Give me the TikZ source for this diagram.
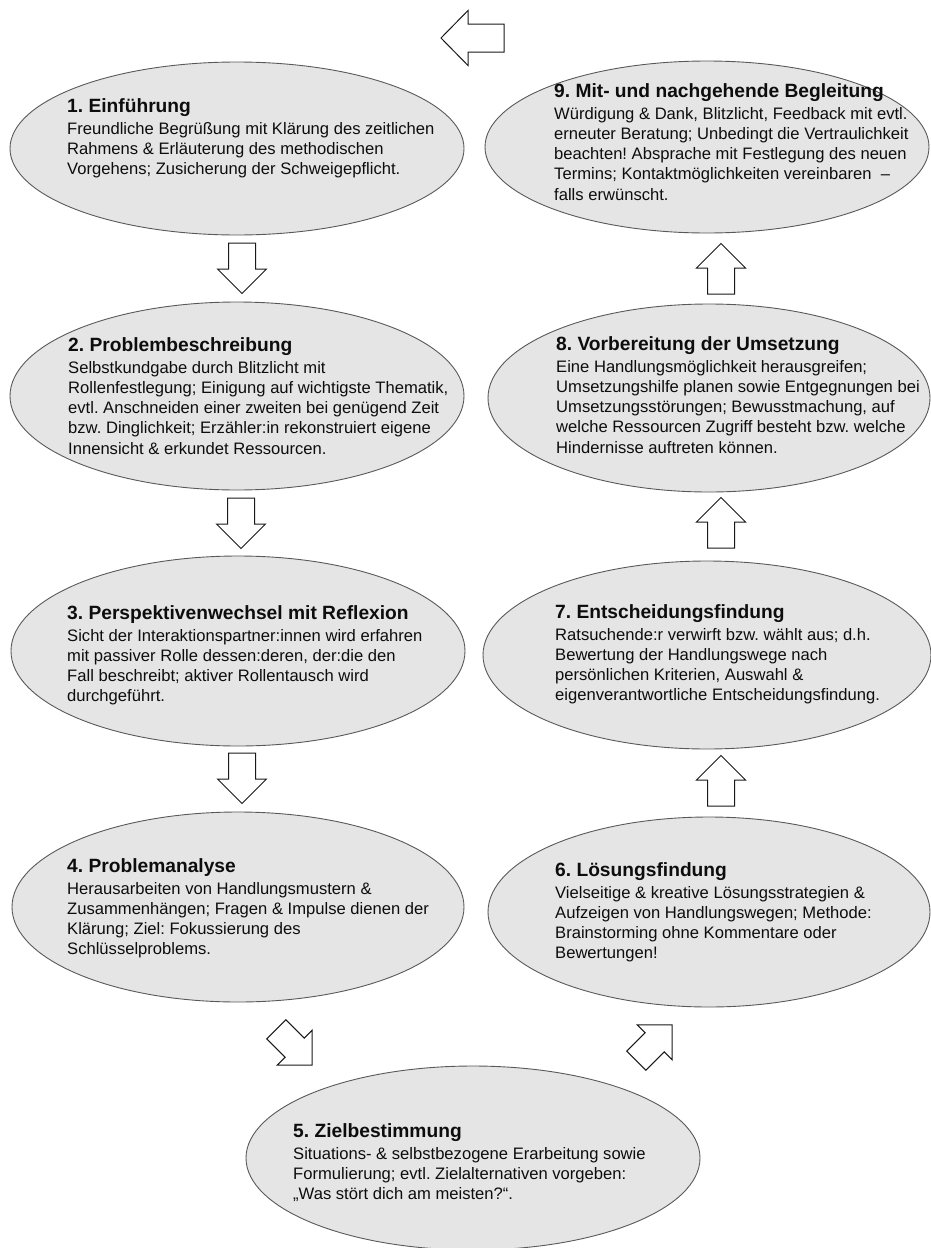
\documentclass[tikz,border=0pt]{standalone}
\usepackage{fontspec}
\setmainfont{Liberation Sans}
\usetikzlibrary{shapes.geometric}
\frenchspacing
\newcommand\stagetext[2]{\parbox[t]{420pt}{\frenchspacing\raggedright\fontsize{19.2}{23}\selectfont\bfseries #1\par\vspace{1.7pt}\fontsize{16.6}{20.3}\selectfont\mdseries #2}}
\tikzset{
  stage/.style 2 args={ellipse, draw=black!65, fill=black!10, line width=0.9pt, minimum width=#1pt, minimum height=#2pt, inner sep=0pt},
  txt/.style={anchor=base west, inner sep=0pt, text=black!95},
  blockarrow/.style={draw=black!90, fill=white, line width=1pt, line join=miter},
  pics/barrow/.style args={#1/#2/#3/#4}{code={
    \draw[blockarrow] (-#1,-#3) -- (0,-#3) -- (0,-#4) -- (#2,0) -- (0,#4) -- (0,#3) -- (-#1,#3) -- cycle;}}
}
\begin{document}
\begin{tikzpicture}[x=1pt,y=-1pt]
\useasboundingbox (0,0) rectangle (930,1248);
% ellipses
\node[stage={454}{173}] (e1) at (237,148.5) {};
\node[stage={444}{172}] (e9) at (707,147) {};
\node[stage={454}{188}] (e2) at (237,396) {};
\node[stage={442}{188}] (e8) at (709,398) {};
\node[stage={454}{190}] (e3) at (238,651) {};
\node[stage={448}{188}] (e7) at (707,655) {};
\node[stage={452}{190}] (e4) at (238,907) {};
\node[stage={442}{190}] (e6) at (709,912) {};
\node[stage={454}{184}] (e5) at (473,1158) {};
% texts
\node[txt] (t1) at (67,112) {\stagetext{1. Einführung}{Freundliche Begrüßung mit Klärung des zeitlichen\\Rahmens \& Erläuterung des methodischen\\Vorgehens; Zusicherung der Schweigepflicht.}};
\node[txt] (t9) at (554,97) {\stagetext{9. Mit- und nachgehende Begleitung}{Würdigung \& Dank, Blitzlicht, Feedback mit evtl.\\erneuter Beratung; Unbedingt die Vertraulichkeit\\beachten! Absprache mit Festlegung des neuen\\Termins; Kontaktmöglichkeiten vereinbaren~ –\\falls erwünscht.}};
\node[txt] (t2) at (68,351) {\stagetext{2. Problembeschreibung}{Selbstkundgabe durch Blitzlicht mit\\Rollenfestlegung; Einigung auf wichtigste Thematik,\\evtl. Anschneiden einer zweiten bei genügend Zeit\\bzw. Dinglichkeit; Erzähler:in rekonstruiert eigene\\Innensicht \& erkundet Ressourcen.}};
\node[txt] (t8) at (556,350) {\stagetext{8. Vorbereitung der Umsetzung}{Eine Handlungsmöglichkeit herausgreifen;\\Umsetzungshilfe planen sowie Entgegnungen bei\\Umsetzungsstörungen; Bewusstmachung, auf\\welche Ressourcen Zugriff besteht bzw. welche\\Hindernisse auftreten können.}};
\node[txt] (t3) at (67,619) {\stagetext{3. Perspektivenwechsel mit Reflexion}{Sicht der Interaktionspartner:innen wird erfahren\\mit passiver Rolle dessen:deren, der:die den\\Fall beschreibt; aktiver Rollentausch wird\\durchgeführt.}};
\node[txt] (t7) at (555,618) {\stagetext{7. Entscheidungsfindung}{Ratsuchende:r verwirft bzw. wählt aus; d.h.\\Bewertung der Handlungswege nach\\persönlichen Kriterien, Auswahl \&\\eigenverantwortliche Entscheidungsfindung.}};
\node[txt] (t4) at (67,872) {\stagetext{4. Problemanalyse}{Herausarbeiten von Handlungsmustern \&\\Zusammenhängen; Fragen \& Impulse dienen der\\Klärung; Ziel: Fokussierung des\\Schlüsselproblems.}};
\node[txt] (t6) at (555,876) {\stagetext{6. Lösungsfindung}{Vielseitige \& kreative Lösungsstrategien \&\\Aufzeigen von Handlungswegen; Methode:\\Brainstorming ohne Kommentare oder\\Bewertungen!}};
\node[txt] (t5) at (293,1137) {\stagetext{5. Zielbestimmung}{Situations- \& selbstbezogene Erarbeitung sowie\\Formulierung; evtl. Zielalternativen vorgeben:\\„Was stört dich am meisten?“.}};
% block arrows
\pic[rotate=180] at (468,38) {barrow={36/27/14/27.5}};
\pic[rotate=-90] at (242,269) {barrow={26/24.5/13.5/24.5}};
\pic[rotate=-90] at (241,524) {barrow={26/24.5/13.5/24.5}};
\pic[rotate=-90] at (242,779) {barrow={26/24.5/13.5/24.5}};
\pic[rotate=-45] at (294.7,1047.7) {barrow={26/24.5/13.5/24.5}};
\pic[rotate=45] at (654.7,1042.3) {barrow={26/24.5/13.5/24.5}};
\pic[rotate=90] at (721,780) {barrow={26/24.5/13.5/24.5}};
\pic[rotate=90] at (721,522) {barrow={26/24.5/13.5/24.5}};
\pic[rotate=90] at (721,268) {barrow={26/24.5/13.5/24.5}};
\end{tikzpicture}
\end{document}
